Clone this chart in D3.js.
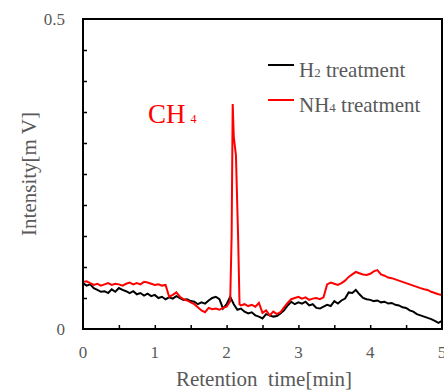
<!DOCTYPE html>
<html lang="en">
<head>
<meta charset="UTF-8">
<title>Chromatogram</title>
<script src="https://d3js.org/d3.v7.min.js"></script>
<style>
  body { margin: 0; background: #fff; }
  svg text, svg tspan { font-family: "Liberation Serif", "Times New Roman", serif; }
</style>
</head>
<body>
<svg width="444" height="390"></svg>
<script>
// retention time [min] and intensity [mV]
var tH2 = [0,0.05,0.1,0.15,0.2,0.25,0.3,0.35,0.4,0.45,0.5,0.55,0.6,0.65,0.7,0.75,0.8,0.85,0.9,0.95,
  1,1.05,1.1,1.15,1.2,1.25,1.3,1.35,1.4,1.45,1.5,1.55,1.6,1.65,1.7,1.75,1.8,1.85,1.9,1.95,
  2,2.05,2.1,2.15,2.2,2.25,2.3,2.35,2.4,2.45,2.5,2.55,2.6,2.65,2.7,2.75,2.8,2.85,2.9,2.95,
  3,3.05,3.1,3.15,3.2,3.25,3.3,3.35,3.4,3.45,3.5,3.55,3.6,3.65,3.7,3.75,3.8,3.85,3.9,3.95,
  4,4.05,4.1,4.15,4.2,4.25,4.3,4.35,4.4,4.45,4.5,4.55,4.6,4.65,4.7,4.75,4.8,4.85,4.9,4.95,5];
var h2 = [.074,.070,.072,.066,.063,.060,.061,.058,.064,.060,.066,.063,.061,.058,.061,.056,.058,.054,.057,.053,
  .055,.050,.052,.048,.051,.049,.053,.050,.047,.048,.045,.044,.040,.043,.041,.046,.050,.052,.048,.033,
  .040,.052,.040,.031,.033,.028,.025,.027,.022,.020,.017,.024,.022,.020,.021,.025,.030,.038,.044,.040,
  .043,.041,.044,.038,.040,.034,.033,.036,.039,.037,.045,.041,.046,.049,.059,.058,.063,.056,.050,.048,
  .047,.045,.046,.043,.044,.041,.042,.039,.038,.035,.034,.030,.028,.024,.022,.020,.018,.016,.013,.010,.013];

var tNH4 = [0,0.05,0.1,0.15,0.2,0.25,0.3,0.35,0.4,0.45,0.5,0.55,0.6,0.65,0.7,0.75,0.8,0.85,0.9,0.95,
  1,1.05,1.1,1.15,1.2,1.25,1.3,1.35,1.4,1.45,1.5,1.55,1.6,1.65,1.7,1.75,1.8,1.85,1.9,1.95,
  2,2.05,2.07,2.085,2.1,2.13,2.16,2.18,2.2,2.25,2.3,2.35,2.4,2.45,2.5,2.55,2.6,2.65,2.7,2.75,2.8,2.85,2.9,2.95,
  3,3.05,3.1,3.15,3.2,3.25,3.3,3.35,3.4,3.45,3.5,3.55,3.6,3.65,3.7,3.75,3.8,3.85,3.9,3.95,
  4,4.05,4.1,4.15,4.2,4.25,4.3,4.35,4.4,4.45,4.5,4.55,4.6,4.65,4.7,4.75,4.8,4.85,4.9,4.95,5];
var nh4 = [.076,.077,.074,.071,.073,.070,.072,.074,.071,.073,.072,.070,.073,.075,.072,.074,.072,.076,.075,.073,
  .071,.072,.070,.071,.052,.055,.059,.052,.048,.046,.043,.040,.035,.030,.027,.034,.032,.033,.031,.034,
  .036,.045,.150,.363,.310,.280,.150,.040,.038,.040,.037,.039,.036,.042,.026,.030,.022,.028,.024,.027,.035,.042,.048,.050,
  .052,.049,.051,.047,.049,.050,.048,.051,.072,.075,.073,.071,.074,.078,.084,.088,.092,.090,.088,.087,
  .089,.093,.095,.088,.086,.083,.082,.080,.078,.076,.074,.072,.070,.068,.066,.064,.063,.060,.058,.056,.055];

var seriesNames = ["H", "NH"];
var seriesSubs = ["2", "4"];
var xTickLabels = [0, 1, 2, 3, 4, 5];
var yTickLabels = [0, 0.5];

var svg = d3.select("svg");
var mLeft = 83, mRight = 442, mTop = 19, mBottom = 329;

var x = d3.scaleLinear().domain([0, 5]).range([mLeft, mRight]);
var y = d3.scaleLinear().domain([0, 0.5]).range([mBottom, mTop]);

var grey = "#595959";

// ticks pointing inward
svg.append("g")
  .attr("transform", "translate(0," + mBottom + ")")
  .call(d3.axisTop(x).tickValues(d3.range(0.5, 5, 0.5)).tickSize(4).tickFormat(""))
  .call(g => g.select(".domain").remove())
  .selectAll("line").attr("stroke", "#000").attr("stroke-width", 1.5);

svg.append("g")
  .attr("transform", "translate(" + mLeft + ",0)")
  .call(d3.axisRight(y).tickValues(d3.range(0.05, 0.5, 0.05)).tickSize(4).tickFormat(""))
  .call(g => g.select(".domain").remove())
  .selectAll("line").attr("stroke", "#000").attr("stroke-width", 1.5);

// tick labels
svg.append("g").selectAll("text")
  .data(xTickLabels).enter().append("text")
  .attr("x", d => x(d))
  .attr("y", 358)
  .attr("text-anchor", "middle")
  .attr("font-size", 17)
  .attr("fill", grey)
  .text(d => d);

svg.append("g").selectAll("text")
  .data(yTickLabels).enter().append("text")
  .attr("x", 65)
  .attr("y", d => y(d) + 6)
  .attr("text-anchor", "end")
  .attr("font-size", 17)
  .attr("fill", grey)
  .text(d => d);

// lines
var line = d3.line().x(d => x(d[0])).y(d => y(d[1]));

svg.append("path")
  .datum(tH2.map((t, i) => [t, h2[i]]))
  .attr("d", line)
  .attr("fill", "none")
  .attr("stroke", "#000")
  .attr("stroke-width", 2);

svg.append("path")
  .datum(tNH4.map((t, i) => [t, nh4[i]]))
  .attr("d", line)
  .attr("fill", "none")
  .attr("stroke", "#ff0000")
  .attr("stroke-width", 2);

// frame
svg.append("rect")
  .attr("x", mLeft).attr("y", mTop)
  .attr("width", mRight - mLeft).attr("height", mBottom - mTop)
  .attr("fill", "none")
  .attr("stroke", "#000")
  .attr("stroke-width", 2);

// axis titles
svg.append("text")
  .attr("x", 264).attr("y", 386)
  .attr("text-anchor", "middle")
  .attr("font-size", 21)
  .attr("fill", grey)
  .text("Retention\u00a0 time[min]");

svg.append("text")
  .attr("transform", "translate(36,174)rotate(-90)")
  .attr("text-anchor", "middle")
  .attr("font-size", 21)
  .attr("fill", grey)
  .text("Intensity[m V]");

// legend
var legendColors = ["#000", "#ff0000"];
var leg = svg.append("g").selectAll("g")
  .data(seriesNames).enter().append("g")
  .attr("transform", (d, i) => "translate(268," + (65 + i * 35) + ")");

leg.append("line")
  .attr("x1", 0).attr("x2", 26)
  .attr("stroke", (d, i) => legendColors[i])
  .attr("stroke-width", 2);

var lt = leg.append("text")
  .attr("x", 31).attr("y", 12)
  .attr("font-size", 21)
  .attr("fill", grey);
lt.append("tspan").text(d => d);
lt.append("tspan").attr("font-size", 13).text((d, i) => seriesSubs[i]);
lt.append("tspan").text(" treatment");

// peak label
var ch = svg.append("text")
  .attr("x", 148).attr("y", 123)
  .attr("font-size", 27)
  .attr("fill", "#ff0000");
ch.append("tspan").text("CH");
ch.append("tspan").attr("font-size", 12).attr("dx", 5).text("4");
</script>
</body>
</html>
